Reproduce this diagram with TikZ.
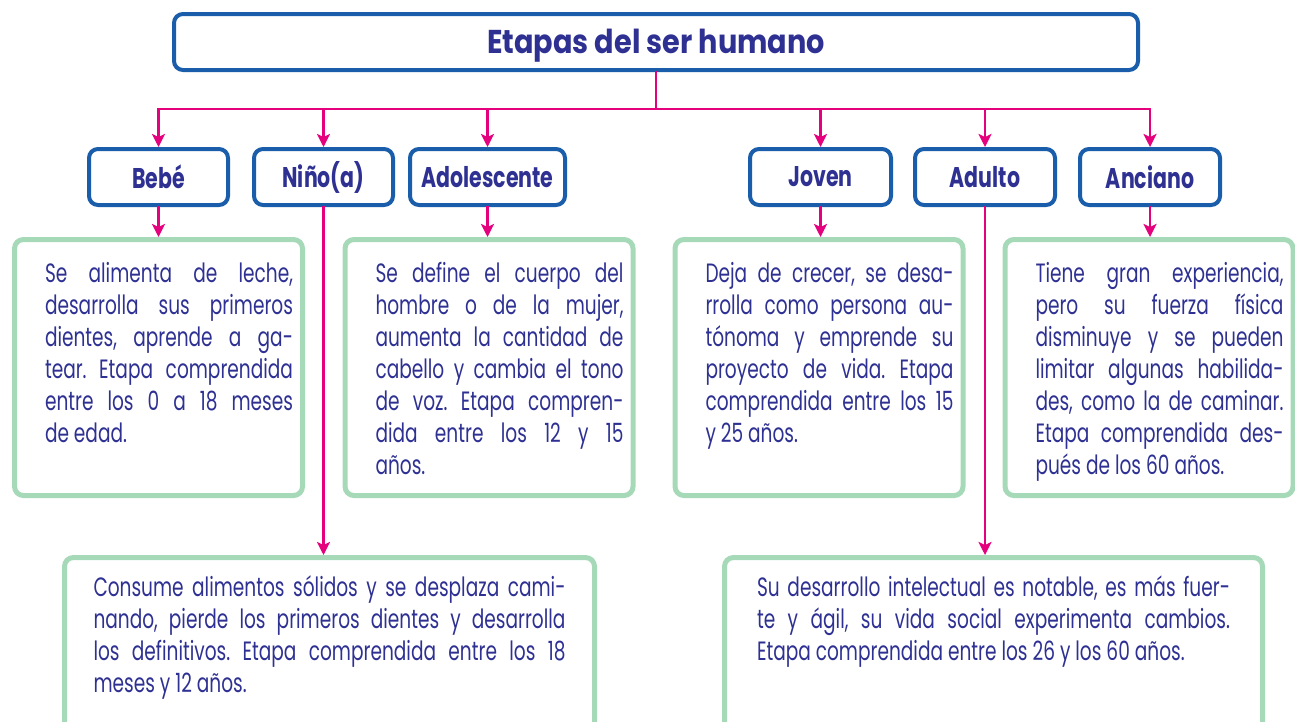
\documentclass[tikz,border=0pt]{standalone}
\usepackage{fontspec}
\setmainfont{Poppins}[FakeStretch=0.7]
\newfontfamily\headfont{Poppins}[FakeStretch=0.87]
\newfontfamily\stagefont{Poppins}[FakeStretch=0.72]
\usepackage{xcolor}
\usetikzlibrary{positioning,arrows.meta}

\definecolor{boxblue}{HTML}{1A5EAB}
\definecolor{ink}{HTML}{2E3192}
\definecolor{linkpink}{HTML}{E5007D}
\definecolor{notegreen}{HTML}{A6D9B8}

% one justified line of a note
\newcommand{\jline}[1]{\makebox[\linewidth][s]{#1}\\}

\begin{document}
\begin{tikzpicture}[x = 1pt, y = -1pt,
  stage/.style = {draw = boxblue, line width = 4pt, rounded corners = 9pt,
    text = ink, font = \stagefont\bfseries\fontsize{28.5}{28.5}\selectfont,
    minimum height = 56pt, inner sep = 0pt},
  note/.style = {draw = notegreen, line width = 5pt, rounded corners = 9pt,
    text = ink, font = \frenchspacing\fontsize{26.5}{32}\selectfont, anchor = north,
    minimum width = 288pt, inner xsep = 0pt, inner ysep = 23pt},
  widenote/.style = {note, minimum width = 0pt, inner ysep = 18pt},
  link/.style = {draw = linkpink, line width = 2.8pt, line cap = rect},
  arrow/.style = {link, -{Stealth[length = 13pt, width = 13pt, inset = 3pt]}}]

  \useasboundingbox (0, 0) rectangle (1295, 721);
  \clip (0, 0) rectangle (1295, 721);

  \node[stage, minimum width = 964pt, font = \headfont\bfseries\fontsize{33}{33}\selectfont]
    (title) at (656, 42) {\raisebox{-11pt}[0pt][0pt]{Etapas del ser humano}};

  \coordinate (bus) at (656, 109);

  \node[stage, minimum width = 139pt] (bebe) at (158.5, 177) {Bebé};
  \node[stage, minimum width = 139pt] (nino) at (323.5, 177) {Niño(a)};
  \node[stage, minimum width = 155pt] (adol) at (487.5, 177) {Adolescente};
  \node[stage, minimum width = 141pt] (joven) at (820.5, 177) {Joven};
  \node[stage, minimum width = 140pt] (adulto) at (985, 177) {Adulto};
  \node[stage, minimum width = 140pt] (anciano) at (1150, 177) {Anciano};

  \node[note] (dbebe) at (158.5, 237) {\hspace*{21pt}\parbox[c][210pt][t]{248pt}{
    \jline{Se alimenta de leche,}
    \jline{desarrolla sus primeros}
    \jline{dientes, aprende a ga-}
    \jline{tear. Etapa comprendida}
    \jline{entre los 0 a 18 meses}
    de edad.}};

  \node[note] (dadol) at (489, 237) {\hspace*{21pt}\parbox[c][210pt][t]{248pt}{
    \jline{Se define el cuerpo del}
    \jline{hombre o de la mujer,}
    \jline{aumenta la cantidad de}
    \jline{cabello y cambia el tono}
    \jline{de voz. Etapa compren-}
    \jline{dida entre los 12 y 15}
    años.}};

  \node[note] (djoven) at (819, 237) {\hspace*{21pt}\parbox[c][210pt][t]{248pt}{
    \jline{Deja de crecer, se desa-}
    \jline{rrolla como persona au-}
    \jline{tónoma y emprende su}
    \jline{proyecto de vida. Etapa}
    \jline{comprendida entre los 15}
    y 25 años.}};

  \node[note] (danciano) at (1149, 237) {\hspace*{21pt}\parbox[c][210pt][t]{248pt}{
    \jline{Tiene gran experiencia,}
    \jline{pero su fuerza física}
    \jline{disminuye y se pueden}
    \jline{limitar algunas habilida-}
    \jline{des, como la de caminar.}
    \jline{Etapa comprendida des-}
    pués de los 60 años.}};

  \node[widenote, inner xsep = 29pt] (dnino) at (329.5, 555) {\parbox[c][200pt][t]{472pt}{
    \jline{Consume alimentos sólidos y se desplaza cami-}
    \jline{nando, pierde los primeros dientes y desarrolla}
    \jline{los definitivos. Etapa comprendida entre los 18}
    meses y 12 años.}};

  \node[widenote, inner xsep = 32.5pt] (dadulto) at (993.5, 555) {\parbox[c][200pt][t]{473pt}{
    \jline{Su desarrollo intelectual es notable, es más fuer-}
    \jline{te y ágil, su vida social experimenta cambios.}
    Etapa comprendida entre los 26 y los 60 años.}};

  \draw[link] (title.south) -- (bus);
  \draw[link] (bebe.north |- bus) -- (anciano.north |- bus);
  \foreach \n in {bebe, nino, adol, joven, adulto, anciano}
    \draw[arrow] (\n.north |- bus) -- (\n.north);

  \draw[arrow] (bebe.south) -- (bebe.south |- dbebe.north);
  \draw[arrow] (nino.south) -- (nino.south |- dnino.north);
  \draw[arrow] (adol.south) -- (adol.south |- dadol.north);
  \draw[arrow] (joven.south) -- (joven.south |- djoven.north);
  \draw[arrow] (adulto.south) -- (adulto.south |- dadulto.north);
  \draw[arrow] (anciano.south) -- (anciano.south |- danciano.north);
\end{tikzpicture}
\end{document}
